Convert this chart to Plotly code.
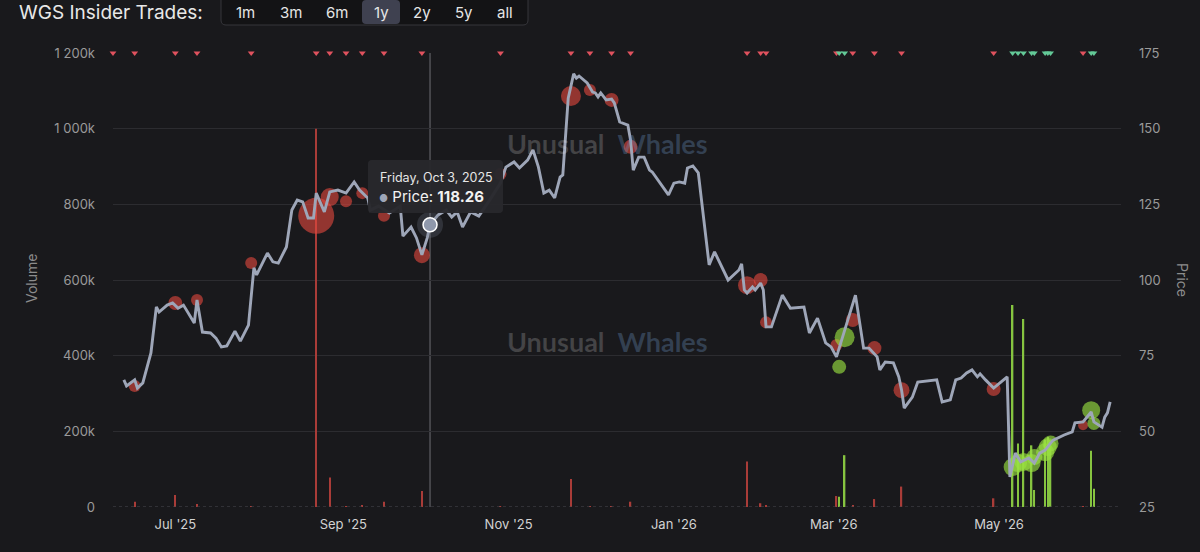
import datetime
import plotly.graph_objects as go

TICKER = "WGS"

# -----------------------------
# Data
# -----------------------------
price_dates = [
    "2025-06-12", "2025-06-13", "2025-06-16", "2025-06-17", "2025-06-19", "2025-06-22",
    "2025-06-24", "2025-06-25", "2025-06-28", "2025-06-30", "2025-07-02", "2025-07-04",
    "2025-07-08", "2025-07-09", "2025-07-11", "2025-07-14", "2025-07-16", "2025-07-18",
    "2025-07-20", "2025-07-23", "2025-07-25", "2025-07-28", "2025-07-30", "2025-07-31",
    "2025-08-04", "2025-08-06", "2025-08-08", "2025-08-11", "2025-08-13", "2025-08-15",
    "2025-08-17", "2025-08-19", "2025-08-21", "2025-08-22", "2025-08-25", "2025-08-27",
    "2025-08-30", "2025-09-02", "2025-09-05", "2025-09-07", "2025-09-10", "2025-09-11",
    "2025-09-14", "2025-09-18", "2025-09-22", "2025-09-23", "2025-09-26", "2025-09-28",
    "2025-09-30", "2025-10-02", "2025-10-03", "2025-10-06", "2025-10-09", "2025-10-11",
    "2025-10-13", "2025-10-15", "2025-10-18", "2025-10-21", "2025-10-25", "2025-10-29",
    "2025-10-31", "2025-11-03", "2025-11-05", "2025-11-08", "2025-11-10", "2025-11-12",
    "2025-11-14", "2025-11-16", "2025-11-18", "2025-11-20", "2025-11-21", "2025-11-23",
    "2025-11-25", "2025-11-26", "2025-11-27", "2025-11-30", "2025-12-02", "2025-12-03",
    "2025-12-04", "2025-12-05", "2025-12-07", "2025-12-09", "2025-12-10", "2025-12-12",
    "2025-12-15", "2025-12-16", "2025-12-17", "2025-12-19", "2025-12-21", "2025-12-23",
    "2025-12-24", "2025-12-30", "2026-01-01", "2026-01-03", "2026-01-05", "2026-01-06",
    "2026-01-08", "2026-01-10", "2026-01-14", "2026-01-16", "2026-01-21", "2026-01-23",
    "2026-01-25", "2026-01-26", "2026-01-27", "2026-01-28", "2026-01-30", "2026-01-31",
    "2026-02-02", "2026-02-03", "2026-02-04", "2026-02-06", "2026-02-10", "2026-02-13",
    "2026-02-18", "2026-02-20", "2026-02-23", "2026-02-26", "2026-02-28", "2026-03-02",
    "2026-03-07", "2026-03-09", "2026-03-12", "2026-03-14", "2026-03-17", "2026-03-18",
    "2026-03-20", "2026-03-23", "2026-03-25", "2026-03-26", "2026-03-27", "2026-03-30",
    "2026-04-01", "2026-04-07", "2026-04-08", "2026-04-10", "2026-04-13", "2026-04-15",
    "2026-04-17", "2026-04-19", "2026-04-21", "2026-04-23", "2026-04-24", "2026-04-26",
    "2026-04-29", "2026-05-04", "2026-05-05", "2026-05-07", "2026-05-09", "2026-05-12",
    "2026-05-14", "2026-05-16", "2026-05-18", "2026-05-20", "2026-05-21", "2026-05-25",
    "2026-05-28", "2026-05-29", "2026-06-01", "2026-06-04", "2026-06-05", "2026-06-08",
    "2026-06-09", "2026-06-10", "2026-06-11",
]
price_values = [
    67.0, 65.0, 67.0, 64.3, 66.0, 75.9,
    91.1, 89.4, 91.7, 92.4, 90.7, 91.7,
    85.8, 93.4, 82.8, 82.5, 80.8, 77.9,
    78.2, 83.1, 79.8, 85.1, 104.0, 101.7,
    108.9, 106.0, 105.6, 110.9, 123.1, 126.4,
    125.8, 120.5, 120.5, 128.7, 122.5, 129.1,
    129.7, 128.7, 132.4, 129.7, 127.1, 123.1,
    124.4, 122.1, 124.4, 114.5, 117.5, 113.9,
    108.3, 114.0, 118.26, 121.5, 123.1, 120.8,
    122.5, 117.5, 122.5, 121.1, 126.4, 132.0,
    137.3, 139.0, 137.0, 139.6, 143.0, 137.3,
    128.7, 129.7, 127.1, 134.0, 134.7, 160.1,
    168.1, 166.7, 167.4, 165.1, 162.1, 161.8,
    160.5, 161.8, 159.5, 159.8, 158.5, 152.2,
    151.2, 146.3, 136.3, 140.6, 140.6, 136.3,
    135.7, 128.1, 132.0, 132.4, 132.0, 137.0,
    137.7, 135.4, 105.0, 109.3, 100.0, 101.7,
    103.3, 105.3, 96.7, 95.7, 97.7, 96.7,
    99.0, 96.7, 84.5, 84.5, 95.0, 90.7,
    91.1, 82.5, 87.4, 79.2, 77.9, 74.6,
    89.4, 95.0, 77.5, 77.5, 74.6, 70.3,
    72.9, 72.6, 68.0, 63.7, 57.7, 61.3,
    66.3, 67.0, 67.0, 59.7, 60.4, 67.0,
    67.6, 69.3, 70.3, 68.0, 69.0, 67.0,
    64.3, 68.0, 34.9, 42.8, 39.9, 41.2,
    39.5, 42.8, 43.8, 46.1, 47.1, 48.8,
    49.8, 52.8, 53.1, 56.4, 53.1, 51.4,
    54.7, 56.1, 59.7,
]

# insider sells (red)
sell_dates = [
    "2025-06-08", "2025-06-16", "2025-07-01", "2025-07-09", "2025-07-29", "2025-08-22",
    "2025-08-27", "2025-09-02", "2025-09-08", "2025-09-16", "2025-09-30", "2025-10-29",
    "2025-11-24", "2025-12-01", "2025-12-09", "2025-12-16", "2026-01-28", "2026-02-02",
    "2026-02-04", "2026-03-02", "2026-03-08", "2026-03-16", "2026-03-26", "2026-04-29",
    "2026-06-01",
]
sell_prices = [
    None, 65.0, 92.4, 93.4, 105.6, 121.2,
    127.4, 126.0, 128.7, 121.2, 108.2, 135.0,
    160.8, 162.8, 159.5, 144.0, 98.3, 100.0,
    86.0, 78.5, 86.8, 77.5, 63.6, 64.0,
    52.0,
]
sell_volumes = [
    0, 14000, 32000, 8000, 2000, 1000000,
    78000, 2000, 5000, 14000, 42000, 2000,
    74000, 2000, 2000, 14000, 120000, 10000,
    5000, 29000, 3000, 21000, 54000, 23000,
    2000,
]
sell_sizes = [
    0, 12, 14, 12, 12, 36,
    18, 12, 12, 12, 16, 12,
    20, 12, 14, 14, 18, 14,
    12, 12, 14, 14, 16, 14,
    10,
]

# insider buys (green)
buy_dates = [
    "2026-03-03", "2026-03-05", "2026-05-06", "2026-05-08", "2026-05-10", "2026-05-13",
    "2026-05-14", "2026-05-18", "2026-05-19", "2026-05-20", "2026-06-04", "2026-06-05",
]
buy_prices = [71.3, 81.1, 38.2, 39.5, 39.9, 39.5, 41.5, 43.1, 44.8, 46.0, 57.0, 52.6]
buy_volumes = [27000, 137000, 534000, 168000, 497000, 163000, 45000, 177000, 185000, 177000, 149000, 48000]
buy_sizes = [14, 20, 18, 18, 18, 18, 16, 18, 18, 16, 18, 13]

volume_ticks = [0, 200000, 400000, 600000, 800000, 1000000, 1200000]
volume_labels = ["0", "200k", "400k", "600k", "800k", "1 000k", "1 200k"]
price_ticks = [25, 50, 75, 100, 125, 150, 175]

range_buttons = ["1m", "3m", "6m", "1y", "2y", "5y", "all"]
active_range = "1y"
hover_date = "2025-10-03"

# -----------------------------
# Style
# -----------------------------
BG = "#19191c"
GRID = "#2c2c30"
LINE = "#9ea6b8"
RED = "rgba(230,72,62,0.85)"
GREEN = "rgba(152,224,64,0.92)"
FONT = "Inter"

W, H = 1200, 552
# plot area in pixels, used to place the overlay texts / boxes
L, R, T, B = 113, 1121, 53, 507
BUTTON_X = [245, 291, 337, 381, 422, 464, 505]


def px(x):
    return (x - L) / (R - L)


def py(y):
    return (B - y) / (B - T)


def rounded_rect(x0, y0, x1, y1, r):
    """svg path for a rounded box given in pixels, converted to paper units"""
    pts = [
        f"M{px(x0 + r)},{py(y0)}", f"L{px(x1 - r)},{py(y0)}",
        f"Q{px(x1)},{py(y0)} {px(x1)},{py(y0 + r)}", f"L{px(x1)},{py(y1 - r)}",
        f"Q{px(x1)},{py(y1)} {px(x1 - r)},{py(y1)}", f"L{px(x0 + r)},{py(y1)}",
        f"Q{px(x0)},{py(y1)} {px(x0)},{py(y1 - r)}", f"L{px(x0)},{py(y0 + r)}",
        f"Q{px(x0)},{py(y0)} {px(x0 + r)},{py(y0)}", "Z",
    ]
    return " ".join(pts)


DAY_MS = 24 * 3600 * 1000
vol_max = volume_ticks[-1]

fig = go.Figure()

# volume bars
fig.add_trace(go.Bar(x=sell_dates, y=sell_volumes, width=0.5 * DAY_MS,
                     marker=dict(color="#a93c38", line_width=0), yaxis="y"))
fig.add_trace(go.Bar(x=buy_dates, y=buy_volumes, width=0.55 * DAY_MS,
                     marker=dict(color="#86c440", line_width=0), yaxis="y"))

# trade markers on price
sx = [d for d, p in zip(sell_dates, sell_prices) if p is not None]
sy = [p for p in sell_prices if p is not None]
ss = [s for s, p in zip(sell_sizes, sell_prices) if p is not None]
fig.add_trace(go.Scatter(x=sx, y=sy, mode="markers", yaxis="y2",
                         marker=dict(size=ss, color=RED, line_width=0)))
fig.add_trace(go.Scatter(x=buy_dates, y=buy_prices, mode="markers", yaxis="y2",
                         marker=dict(size=buy_sizes, color=GREEN, line_width=0)))

# price line
fig.add_trace(go.Scatter(x=price_dates, y=price_values, mode="lines", yaxis="y2",
                         line=dict(color=LINE, width=2.9)))

# hovered point
hover_price = price_values[price_dates.index(hover_date)]
fig.add_trace(go.Scatter(x=[hover_date], y=[hover_price], mode="markers", yaxis="y2",
                         marker=dict(size=26, color="rgba(120,128,145,0.25)", line_width=0)))
fig.add_trace(go.Scatter(x=[hover_date], y=[hover_price], mode="markers", yaxis="y2",
                         marker=dict(size=14, color="#8f98ab", line=dict(color="white", width=1.5))))

# flags along the top
fig.add_trace(go.Scatter(x=sell_dates, y=[vol_max] * len(sell_dates), mode="markers",
                         yaxis="y", cliponaxis=False,
                         marker=dict(symbol="triangle-down", size=6, color="#e0525e", line_width=0)))
fig.add_trace(go.Scatter(x=buy_dates, y=[vol_max] * len(buy_dates), mode="markers",
                         yaxis="y", cliponaxis=False,
                         marker=dict(symbol="triangle-down", size=6, color="#63c997", line_width=0)))

ai = range_buttons.index(active_range)
shapes = [
    # crosshair
    dict(type="line", xref="x", yref="paper", x0=hover_date, x1=hover_date, y0=0, y1=1,
         line=dict(color="#6e6e74", width=1), layer="below"),
    # dotted baseline
    dict(type="line", xref="paper", yref="y", x0=0, x1=1, y0=0, y1=0,
         line=dict(color="#4a4a50", width=1, dash="dot")),
    # range selector group
    dict(type="path", xref="paper", yref="paper", path=rounded_rect(221, -6, 528, 25, 5),
         fillcolor="#131315", line=dict(color="#36363b", width=1)),
    dict(type="path", xref="paper", yref="paper",
         path=rounded_rect(BUTTON_X[ai] - 19, 0, BUTTON_X[ai] + 19, 24, 4),
         fillcolor="#3f4150", line_width=0),
    # tooltip box
    dict(type="path", xref="paper", yref="paper", path=rounded_rect(368, 160, 503, 213, 4),
         fillcolor="rgba(40,40,44,0.97)", line_width=0),
]

annotations = [
    dict(text=f"{TICKER} Insider Trades:", x=px(17), y=py(13), xanchor="left", yanchor="middle",
         font=dict(size=19, color="#e8e8e8")),
    dict(text="Volume", x=px(31), y=py(279), textangle=-90, xanchor="center", yanchor="middle",
         font=dict(size=14, color="#8c8c8c")),
    dict(text="Price", x=px(1183), y=py(280), textangle=90, xanchor="center", yanchor="middle",
         font=dict(size=14, color="#8c8c8c")),
]
for label, bx in zip(range_buttons, BUTTON_X):
    annotations.append(dict(text=label, x=px(bx), y=py(12), xanchor="center", yanchor="middle",
                            font=dict(size=15, color="#e6e6e6")))

mark = ("<b><span style='color:rgba(255,255,255,0.19)'>Unusual</span>  "
        "<span style='color:rgba(110,150,200,0.31)'>Whales</span></b>")
for wy in (143, 341):
    annotations.append(dict(text=mark, x=px(607), y=py(wy), xanchor="center", yanchor="middle",
                            font=dict(size=27, family="Lato")))

hd = datetime.datetime.strptime(hover_date, "%Y-%m-%d")
annotations.append(dict(text=f"{hd:%A}, {hd:%b} {hd.day}, {hd.year}", x=px(378), y=py(177),
                        xanchor="left", yanchor="middle", font=dict(size=12.5, color="#e6e6e6")))
annotations.append(dict(text=(f"<span style='color:{LINE};font-size:10px'>●</span> "
                              f"Price: <b>{hover_price:.2f}</b>"),
                        x=px(377), y=py(196), xanchor="left", yanchor="middle",
                        font=dict(size=15, color="#f2f2f2")))
for a in annotations:
    a.update(xref="paper", yref="paper", showarrow=False)

fig.update_layout(
    width=W, height=H,
    margin=dict(l=L, r=W - R, t=T, b=H - B),
    paper_bgcolor=BG, plot_bgcolor=BG,
    font=dict(family=FONT, color="#9a9a9a"),
    showlegend=False, hovermode=False, barmode="overlay",
    xaxis=dict(type="date", range=["2025-06-08", "2026-06-15"], tick0="2025-07-01", dtick="M2",
               tickformat="%b '%y", showgrid=False, zeroline=False, showline=False,
               tickfont=dict(size=13, color="#d2d2d2"), ticklabelstandoff=8),
    yaxis=dict(range=[0, vol_max], tickvals=volume_ticks, ticktext=volume_labels,
               gridcolor=GRID, gridwidth=1, zeroline=False, showline=False,
               tickfont=dict(size=13, color="#9a9a9a"), ticklabelstandoff=17),
    yaxis2=dict(range=[price_ticks[0], price_ticks[-1]], tickvals=price_ticks, overlaying="y",
                side="right", showgrid=False, zeroline=False, showline=False,
                tickfont=dict(size=13, color="#9a9a9a"), ticklabelstandoff=17),
    shapes=shapes,
    annotations=annotations,
)

# drop the default page margin so the figure sits at the window corner
fig.write_html("out.html", config={"displayModeBar": False},
               post_script="document.body.style.margin='0';document.body.style.background='%s';" % BG)
